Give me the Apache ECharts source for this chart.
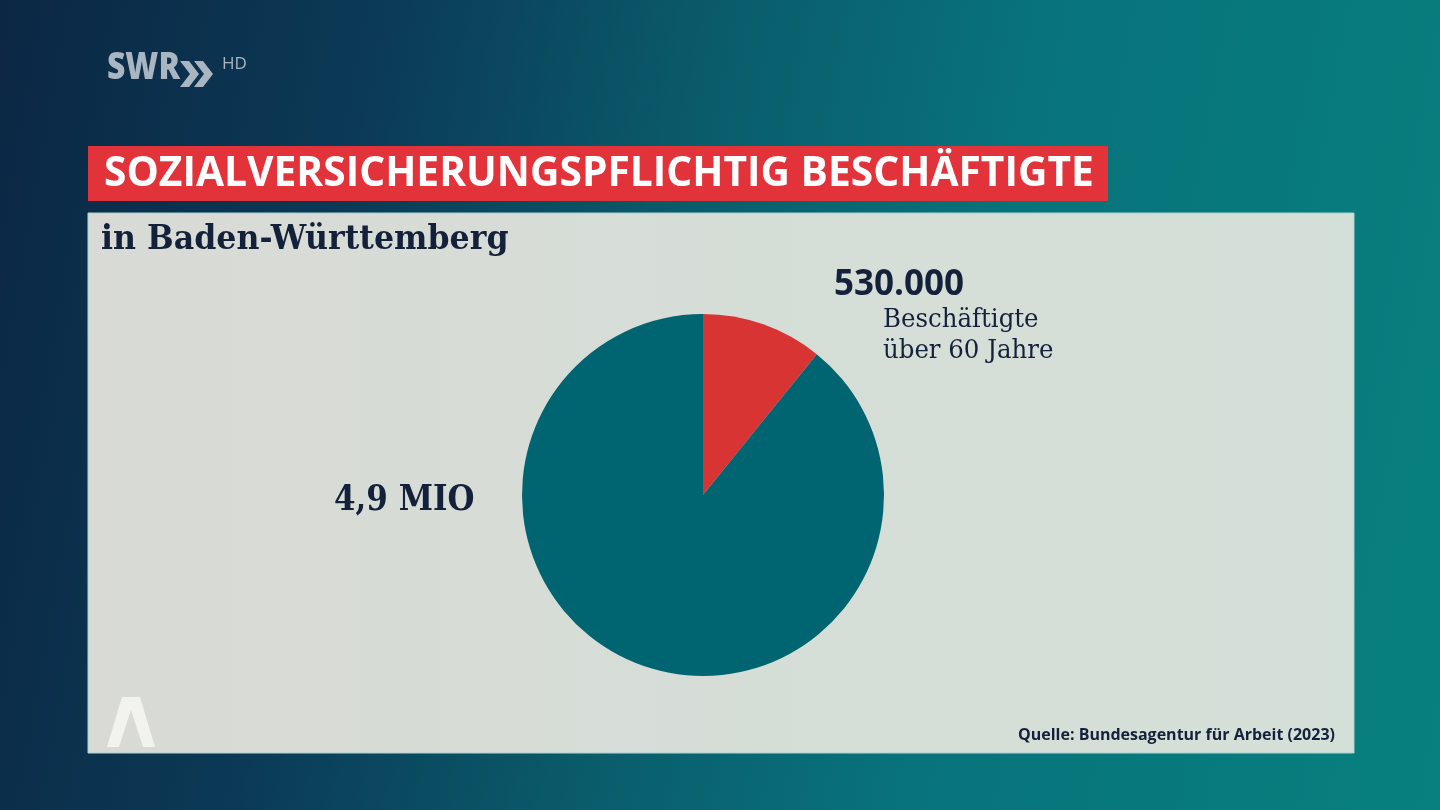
<!DOCTYPE html>
<html><head><meta charset="utf-8">
<script src="https://cdn.jsdelivr.net/npm/echarts@6/dist/echarts.min.js"></script>
<style>
html,body{margin:0;padding:0;width:1440px;height:810px;overflow:hidden;
background:linear-gradient(100deg,#0b2744 0%,#0b3a56 24%,#0a5c6b 46%,#08737b 66%,#07807f 100%);}
#c{width:1440px;height:810px;}
</style></head>
<body><div id="c"></div>
<script>
const titleText = 'SOZIALVERSICHERUNGSPFLICHTIG BESCHÄFTIGTE';
const subtitleText = 'in Baden-Württemberg';
const categories = ['Beschäftigte über 60 Jahre', 'übrige Beschäftigte'];
const values = [530000, 4370000];
const valueLabels = ['530.000', '4,9 MIO'];
const detailLines = ['Beschäftigte', 'über 60 Jahre'];
const sourceText = 'Quelle: Bundesagentur für Arbeit (2023)';
const colors = ['#d93434', '#006570'];

const chart = echarts.init(document.getElementById('c'), null, {renderer:'canvas'});
const navy = '#14213b';
const logoGray = '#a9b6c2';
chart.setOption({
  animation:false,
  graphic:[
    {type:'rect', z:-10, shape:{x:88,y:213,width:1266,height:540},
      style:{fill:new echarts.graphic.LinearGradient(0,0,1,0,[{offset:0,color:'#d9dad6'},{offset:1,color:'#d3e0d8'}]),
      stroke:'#a8d4d2', lineWidth:1}},
    {type:'rect', z:-10, shape:{x:88,y:146,width:1020,height:55}, style:{fill:'#e2323a'}},
    {type:'text', z:5, x:104, y:153, scaleX:0.97, style:{text:titleText, fill:'#ffffff', font:'bold 42px "Open Sans"'}},
    {type:'text', z:5, x:101, y:223, scaleX:0.93, style:{text:subtitleText, fill:navy, font:'bold 34px "DejaVu Serif"'}},
    {type:'text', z:5, x:834, y:268, style:{text:valueLabels[0], fill:navy, font:'bold 35px "Open Sans"'}},
    {type:'text', z:5, x:883, y:307, scaleX:0.94, style:{text:detailLines[0], fill:navy, font:'26px "DejaVu Serif"'}},
    {type:'text', z:5, x:883, y:338, scaleX:0.94, style:{text:detailLines[1], fill:navy, font:'26px "DejaVu Serif"'}},
    {type:'text', z:5, x:334, y:483, scaleX:0.86, style:{text:valueLabels[1], fill:navy, font:'bold 36px "DejaVu Serif"'}},
    {type:'text', z:5, x:1018, y:727, style:{text:sourceText, fill:navy, font:'bold 16px "Open Sans"'}},
    {type:'polygon', z:5, shape:{points:[[122,697],[140,697],[155,747],[143,747],[131,710],[119,747],[107,747]]}, style:{fill:'#f2f2ef'}},
    {type:'text', z:5, x:107, y:50, scaleX:0.86, style:{text:'SWR', fill:logoGray, font:'800 37px "Open Sans"'}},
    {type:'polygon', z:5, shape:{points:[[180,61],[189,61],[199,74],[189,87],[180,87],[190,74]]}, style:{fill:logoGray}},
    {type:'polygon', z:5, shape:{points:[[194,61],[203,61],[213,74],[203,87],[194,87],[204,74]]}, style:{fill:logoGray}},
    {type:'text', z:5, x:222, y:56, style:{text:'HD', fill:logoGray, font:'17px "Open Sans"'}}
  ],
  series:[{
    type:'pie', z:3,
    center:[703,495], radius:181, startAngle:90, clockwise:true,
    label:{show:false}, labelLine:{show:false},
    itemStyle:{borderWidth:0},
    emphasis:{disabled:true},
    data:categories.map((n,i)=>({name:n, value:values[i], itemStyle:{color:colors[i]}}))
  }]
});
</script></body></html>
